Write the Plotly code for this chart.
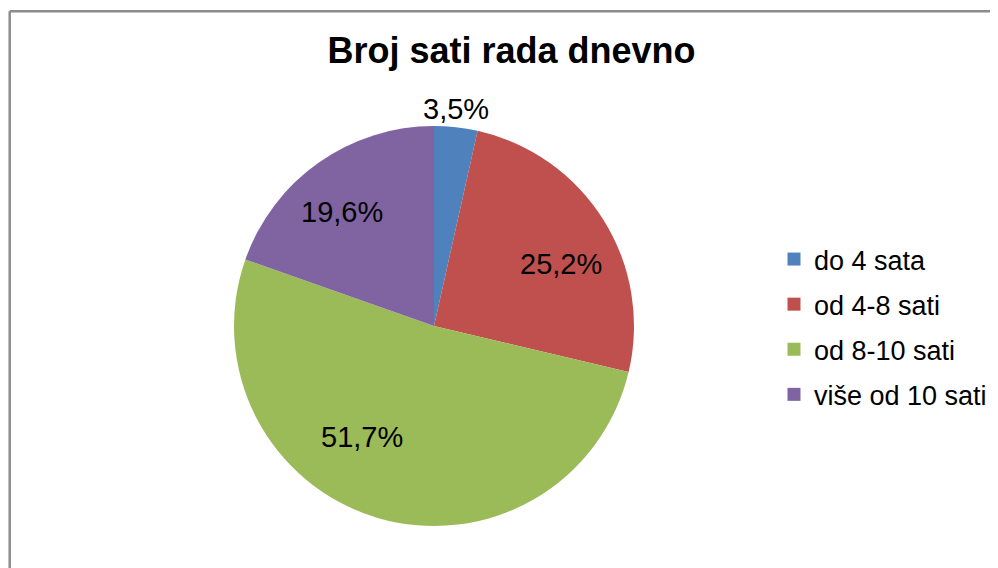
import plotly.graph_objects as go

categories = ["do 4 sata", "od 4-8 sati", "od 8-10 sati", "više od 10 sati"]
values = [3.5, 25.2, 51.7, 19.6]
labels_text = ["3,5%", "25,2%", "51,7%", "19,6%"]
colors = ["#4F81BD", "#C0504D", "#9BBB59", "#8064A2"]
title_text = "Broj sati rada dnevno"

# figure sized to fit inside the page body (8px default margin)
W, H = 990, 560
cx, cy, r = 426, 318, 200
FONT = "Liberation Sans, Arial, sans-serif"

# label offsets (px) from pie centre, layout only
label_offsets = [(22, -217), (127, -62), (-72, 111), (-92, -114)]

fig = go.Figure()
fig.add_trace(go.Pie(
    labels=categories,
    values=values,
    text=labels_text,
    textinfo="none",
    sort=False,
    direction="clockwise",
    rotation=0,
    marker=dict(colors=colors, line=dict(width=0)),
    domain=dict(x=[(cx - r) / W, (cx + r) / W], y=[(H - cy - r) / H, (H - cy + r) / H]),
    showlegend=False,
    hoverinfo="label+text",
))

for i, (c, col) in enumerate(zip(categories, colors)):
    fig.add_trace(go.Scatter(
        x=[None], y=[None], mode="markers", name=c,
        marker=dict(symbol="square", size=13, color=col),
        legendgroup=f"g{i}", showlegend=True,
    ))

annotations = []
for t, (dx, dy) in zip(labels_text, label_offsets):
    annotations.append(dict(
        text=t, x=(cx + dx) / W, y=1 - (cy + dy) / H, xref="paper", yref="paper",
        xanchor="center", yanchor="middle", showarrow=False,
        font=dict(family=FONT, size=29, color="black"),
    ))

border = dict(color="#8c8c8c", width=2.5)
fig.update_layout(
    width=W, height=H,
    margin=dict(l=0, r=0, t=0, b=0),
    paper_bgcolor="white", plot_bgcolor="white",
    xaxis=dict(visible=False), yaxis=dict(visible=False),
    title=dict(text="<b>" + title_text + "</b>", x=503.5 / W, xanchor="center",
               y=1 - 42.5 / H, yanchor="middle",
               font=dict(family=FONT, size=36, color="black")),
    legend=dict(x=766 / W, xanchor="left", y=1 - 227 / H, yanchor="top",
                font=dict(family=FONT, size=27, color="black"),
                tracegroupgap=7, bgcolor="rgba(0,0,0,0)"),
    annotations=annotations,
    shapes=[
        dict(type="line", xref="paper", yref="paper",
             x0=1.7 / W, x1=1.3, y0=1 - 3.3 / H, y1=1 - 3.3 / H, line=border, layer="above"),
        dict(type="line", xref="paper", yref="paper",
             x0=1.7 / W, x1=1.7 / W, y0=-0.3, y1=1 - 3.3 / H, line=border, layer="above"),
    ],
)

fig.write_html(
    "out.html",
    config={"displayModeBar": False},
    post_script="document.documentElement.style.overflow='hidden';document.body.style.overflow='hidden';",
)
